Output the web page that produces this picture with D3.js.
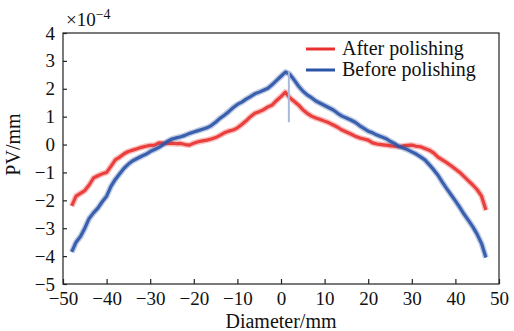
<!DOCTYPE html>
<html>
<head>
<meta charset="utf-8">
<script src="https://cdn.jsdelivr.net/npm/d3@7"></script>
<style>
  body { margin: 0; background: #fff; }
  svg text { font-family: "Liberation Serif", "Times New Roman", serif; }
</style>
</head>
<body>
<div id="chart"></div>
<script>
//////////////////////////////////////////////////////////////////////////////
// Data (PV in units of 1e-4 mm)

var diameters = [-48,-47,-46,-45,-44,-43,-42,-41,-40,-39,-38,-37,-36,-35,-34,-33,
    -32,-31,-30,-29,-28,-27,-26,-25,-24,-23,-22,-21,-20,-19,-18,-17,-16,-15,-14,
    -13,-12,-11,-10,-9,-8,-7,-6,-5,-4,-3,-2,-1,0,1,2,3,4,5,6,7,8,9,10,11,12,13,
    14,15,16,17,18,19,20,21,22,23,24,25,26,27,28,29,30,31,32,33,34,35,36,37,38,
    39,40,41,42,43,44,45,46,47];

var afterPolishing = [-2.2,-1.85,-1.75,-1.65,-1.45,-1.2,-1.12,-1.05,-1.0,-0.78,
    -0.55,-0.45,-0.33,-0.25,-0.2,-0.15,-0.1,-0.06,-0.03,-0.02,0.06,0.05,0.04,0.05,
    0.03,0.04,0.0,-0.02,0.05,0.1,0.13,0.16,0.2,0.25,0.33,0.42,0.48,0.52,0.6,0.72,
    0.85,1.0,1.12,1.18,1.25,1.35,1.42,1.58,1.72,1.88,1.68,1.55,1.42,1.25,1.12,1.02,
    0.95,0.9,0.84,0.78,0.7,0.62,0.52,0.45,0.38,0.3,0.24,0.2,0.16,0.06,0.02,0.0,
    -0.02,-0.04,-0.06,-0.08,-0.05,-0.03,-0.02,-0.06,-0.08,-0.14,-0.2,-0.3,-0.45,
    -0.55,-0.65,-0.76,-0.88,-1.0,-1.15,-1.3,-1.45,-1.62,-1.85,-2.35];

var beforePolishing = [-3.85,-3.5,-3.3,-3.0,-2.65,-2.45,-2.28,-2.05,-1.85,-1.5,
    -1.25,-1.05,-0.85,-0.7,-0.58,-0.5,-0.42,-0.35,-0.25,-0.18,-0.1,0.0,0.12,0.2,
    0.24,0.28,0.33,0.4,0.45,0.5,0.55,0.6,0.68,0.8,0.94,1.05,1.18,1.32,1.44,1.52,
    1.63,1.72,1.82,1.88,1.95,2.02,2.15,2.3,2.45,2.6,2.52,2.32,2.1,1.92,1.78,1.68,
    1.56,1.48,1.4,1.32,1.24,1.12,1.02,0.95,0.88,0.8,0.68,0.58,0.48,0.42,0.34,0.28,
    0.22,0.12,0.04,-0.06,-0.12,-0.18,-0.26,-0.34,-0.44,-0.55,-0.72,-0.9,-1.1,
    -1.35,-1.58,-1.8,-2.02,-2.25,-2.5,-2.72,-2.95,-3.22,-3.55,-4.05];

// single spike in the "before" trace near the centre
var spike = [{ d: 1.8, top: 2.6, bottom: 0.8 }];

var seriesNames = ["After polishing", "Before polishing"];
var seriesColors = ["#e8312f", "#2b54a6"];

var xTicks = [-50,-40,-30,-20,-10,0,10,20,30,40,50];
var yTicks = [-5,-4,-3,-2,-1,0,1,2,3,4];

//////////////////////////////////////////////////////////////////////////////
// Layout

var width = 514, height = 331;
var margin = { top: 33, right: 15, bottom: 47, left: 63 };
var fontSize = 19;
var serif = "'Liberation Serif', 'Times New Roman', serif";

var xScale = d3.scaleLinear().domain([-50, 50]).range([margin.left, width - margin.right]);
var yScale = d3.scaleLinear().domain([-5, 4]).range([height - margin.bottom, margin.top]);

function minusSign(v) { return String(v).replace("-", "\u2212"); }

var svg = d3.select("#chart")
    .append("svg")
    .attr("width", width)
    .attr("height", height)
    .attr("font-family", serif);

//////////////////////////////////////////////////////////////////////////////
// Curves: a soft wide halo under a thinner core gives the fuzzy band look

function toPoints(values) {
    return diameters.map(function(d, i) { return { d: d, v: values[i] }; });
}

var line = d3.line()
    .x(function(p) { return xScale(p.d); })
    .y(function(p) { return yScale(p.v); });

var traces = [afterPolishing, beforePolishing];

var curves = svg.append("g")
    .selectAll("g")
    .data(traces)
    .enter()
    .append("g");

curves.append("path")
    .attr("d", function(t) { return line(toPoints(t)); })
    .attr("fill", "none")
    .attr("stroke", function(t, i) { return seriesColors[i]; })
    .attr("stroke-width", 6)
    .attr("stroke-opacity", 0.3)
    .attr("stroke-linejoin", "round");

curves.append("path")
    .attr("d", function(t) { return line(toPoints(t)); })
    .attr("fill", "none")
    .attr("stroke", function(t, i) { return seriesColors[i]; })
    .attr("stroke-width", 3.2)
    .attr("stroke-opacity", 0.9)
    .attr("stroke-linejoin", "round");

svg.append("g")
    .selectAll("line")
    .data(spike)
    .enter()
    .append("line")
    .attr("x1", function(s) { return xScale(s.d); })
    .attr("x2", function(s) { return xScale(s.d); })
    .attr("y1", function(s) { return yScale(s.top); })
    .attr("y2", function(s) { return yScale(s.bottom); })
    .attr("stroke", "#a9b8dc")
    .attr("stroke-width", 2);

//////////////////////////////////////////////////////////////////////////////
// Frame and axes

svg.append("rect")
    .attr("x", margin.left)
    .attr("y", margin.top)
    .attr("width", width - margin.left - margin.right)
    .attr("height", height - margin.top - margin.bottom)
    .attr("fill", "none")
    .attr("stroke", "#222")
    .attr("stroke-width", 1.2);

var xAxis = svg.append("g")
    .attr("transform", "translate(0," + (height - margin.bottom) + ")")
    .call(d3.axisBottom(xScale).tickValues(xTicks).tickSize(-5).tickPadding(8)
        .tickFormat(minusSign));

var yAxis = svg.append("g")
    .attr("transform", "translate(" + margin.left + ",0)")
    .call(d3.axisLeft(yScale).tickValues(yTicks).tickSize(-4).tickPadding(8)
        .tickFormat(minusSign));

[xAxis, yAxis].forEach(function(a) {
    a.attr("font-family", serif).attr("font-size", fontSize);
    a.select(".domain").remove();
    a.selectAll("line").attr("stroke", "#222").attr("stroke-width", 1.2);
    a.selectAll("text").attr("fill", "#111");
});

// exponent label
var expo = svg.append("text")
    .attr("x", 66)
    .attr("y", 26)
    .attr("fill", "#111")
    .attr("font-size", 19);
expo.append("tspan").text("\u00d710");
expo.append("tspan")
    .attr("dy", -7)
    .attr("font-size", 14)
    .text("\u22124");

// axis titles
svg.append("text")
    .attr("x", (margin.left + width - margin.right) / 2)
    .attr("y", 328)
    .attr("text-anchor", "middle")
    .attr("fill", "#111")
    .attr("font-size", fontSize + 1)
    .text("Diameter/mm");

svg.append("text")
    .attr("transform", "translate(20," + yScale(0) + ") rotate(-90)")
    .attr("text-anchor", "middle")
    .attr("fill", "#111")
    .attr("font-size", fontSize + 1)
    .text("PV/mm");

//////////////////////////////////////////////////////////////////////////////
// Legend

var legend = svg.append("g")
    .selectAll("g")
    .data(seriesNames)
    .enter()
    .append("g")
    .attr("transform", function(d, i) { return "translate(306," + (49 + i * 21) + ")"; });

legend.append("line")
    .attr("x1", 0)
    .attr("x2", 29)
    .attr("stroke", function(d, i) { return seriesColors[i]; })
    .attr("stroke-width", 3);

legend.append("text")
    .attr("x", 36)
    .attr("y", 6)
    .attr("fill", "#111")
    .attr("font-size", fontSize + 1)
    .text(function(d) { return d; });
</script>
</body>
</html>
